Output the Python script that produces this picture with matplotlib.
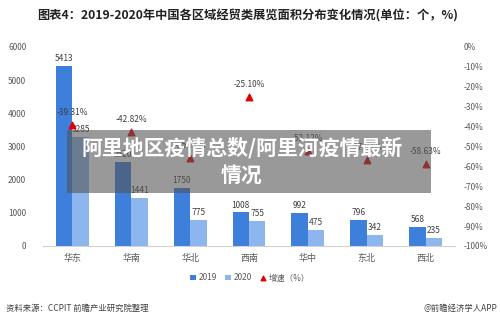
import matplotlib
matplotlib.use("Agg")
import matplotlib.pyplot as plt
import numpy as np
from matplotlib.patches import Rectangle

plt.rcParams['font.family'] = ['Noto Sans CJK SC', 'DejaVu Sans']

regions = ['华东', '华南', '华北', '西南', '华中', '东北', '西北']
count_2019 = [5413, 2520, 1750, 1008, 992, 796, 568]
count_2020 = [3285, 1441, 775, 755, 475, 342, 235]
growth = [-39.31, -42.82, -55.71, -25.10, -52.12, -57.04, -58.63]

c2019 = '#3D7FDB'
c2020 = '#8DB6EE'
cgrow = '#E00000'
tick_col = '#595959'

fig = plt.figure(figsize=(5, 3.24), dpi=100)
ax = fig.add_axes([0.086, 0.241, 0.824, 0.614])
ax2 = ax.twinx()

x = np.arange(len(regions))
w = 0.28
b1 = ax.bar(x - w / 2, count_2019, w, color=c2019, label='2019', zorder=2)
b2 = ax.bar(x + w / 2, count_2020, w, color=c2020, label='2020', zorder=2)

for xi, v in zip(x - w / 2, count_2019):
    ax.text(xi, v + 90, str(v), ha='center', va='bottom', fontsize=6, color='#404040')
for xi, v in zip(x + w / 2, count_2020):
    ax.text(xi, v + 90, str(v), ha='center', va='bottom', fontsize=6, color='#404040')

ax.set_xlim(-0.5, 6.5)
ax.set_ylim(0, 6000)
ax.set_yticks(range(0, 6001, 1000))
ax.set_xticks(x)
ax.set_xticklabels(regions)
ax.tick_params(axis='y', length=0, labelsize=6, colors=tick_col, pad=12)
ax.tick_params(axis='x', length=0, labelsize=6.5, colors=tick_col, pad=6)
for s in ['top', 'right', 'left']:
    ax.spines[s].set_visible(False)
ax.spines['bottom'].set_color('#D0D0D0')

ln = ax2.scatter(x, growth, marker='^', s=22, color=cgrow, zorder=3, label='增速（%）')
for xi, g in zip(x, growth):
    ax2.text(xi, g + 4, f'{g:.2f}%', ha='center', va='bottom', fontsize=6, color='#404040')
ax2.set_ylim(-100, 0)
ax2.set_yticks(range(-100, 1, 10))
ax2.set_yticklabels([f'{t}%' for t in range(-100, 1, 10)])
ax2.tick_params(axis='y', length=0, labelsize=6, colors=tick_col, pad=6)
for s in ax2.spines.values():
    s.set_visible(False)

fig.legend(handles=[b1, b2, ln], labels=['2019', '2020', '增速（%）'],
           loc='center', bbox_to_anchor=(0.5, 0.142), ncol=3, frameon=False,
           fontsize=6, handlelength=0.7, handletextpad=0.3, columnspacing=1.0,
           labelcolor=tick_col, markerscale=0.7)

fig.text(0.074, 0.952, '图表4：2019-2020年中国各区域经贸类展览面积分布变化情况(单位：个，%)',
         fontsize=8.8, fontweight='bold', color='#222222', va='center')
fig.text(0.012, 0.048, '资料来源：CCPIT 前瞻产业研究院整理', fontsize=6, color='#404040', va='center')
fig.text(0.994, 0.048, '@前瞻经济学人APP', fontsize=6, color='#404040', va='center', ha='right')

# grey banner overlay
fig.patches.append(Rectangle((0.134, 0.404), 0.728, 0.194, transform=fig.transFigure,
                             facecolor='#555555', alpha=0.6, zorder=10))
fig.text(0.484, 0.543, '阿里地区疫情总数/阿里河疫情最新', fontsize=15, fontweight='bold',
         color='white', ha='center', va='center', zorder=11)
fig.text(0.484, 0.46, '情况', fontsize=15, fontweight='bold',
         color='white', ha='center', va='center', zorder=11)

fig.savefig('out.png', dpi=100)
